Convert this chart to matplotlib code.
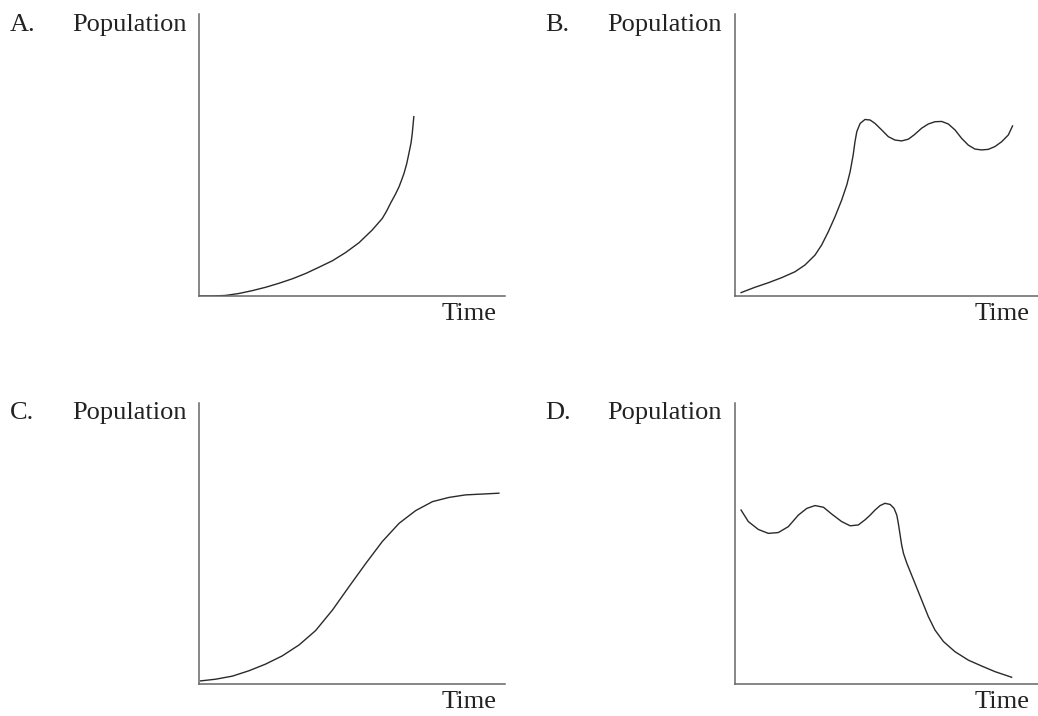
import numpy as np
import matplotlib
from matplotlib import pyplot as plt

# curves (time / population on a 0-100 scale)
time_a = [0, 4.4, 8.7, 13.1, 17.4, 21.8, 26.1, 30.5, 34.9, 39.2, 43.6, 47.9, 52.3, 56.6, 59.9, 61.3, 62.6, 64.2,
          65.4, 66.2, 67.0, 67.9, 68.6, 69.3, 69.7, 70.2]
pop_a = [0, 0, 0.2, 0.9, 1.9, 3.1, 4.5, 6.1, 8.0, 10.2, 12.5, 15.4, 18.9, 23.4, 27.5, 30.1, 32.9, 36.1,
         38.8, 41.1, 43.5, 47.0, 50.6, 54.3, 57.7, 63.6]

time_b = [2.0, 6.6, 11.0, 15.4, 19.8, 23.1, 26.4, 28.6, 30.8, 33.0, 35.2, 36.9, 38.0, 39.0, 39.6, 40.2, 41.3, 42.9,
          44.6, 46.2, 48.4, 50.6, 52.8, 55.0, 57.2, 59.2, 61.6, 63.8, 66.0, 68.2, 70.4, 72.6, 74.8, 77.0, 79.2,
          81.4, 83.6, 85.8, 88.0, 90.2, 91.6]
pop_b = [1.2, 3.1, 4.7, 6.5, 8.6, 11.0, 14.5, 18.1, 22.8, 28.1, 34.0, 39.4, 44.1, 50.0, 54.7, 58.3, 61.2, 62.6,
         62.4, 61.2, 58.9, 56.5, 55.3, 55.0, 55.6, 57.2, 59.5, 61.0, 61.8, 61.9, 61.0, 58.9, 55.9, 53.5, 52.1,
         51.8, 52.0, 53.0, 54.7, 57.1, 60.3]

time_c = [0.5, 5.4, 10.9, 16.3, 21.8, 27.2, 32.7, 38.1, 43.6, 49.0, 54.5, 59.9, 65.4, 70.8, 76.3, 81.7, 87.1, 92.6, 98.0]
pop_c = [1.1, 1.7, 2.8, 4.7, 7.1, 10.0, 13.9, 19.0, 26.3, 34.6, 42.9, 50.7, 57.2, 61.7, 64.9, 66.4, 67.3, 67.6, 67.9]

time_d = [2.0, 4.4, 7.7, 11.0, 14.3, 17.6, 20.9, 23.7, 26.4, 29.2, 31.9, 35.2, 38.0, 40.7, 43.0, 44.6, 46.2, 47.9,
          49.5, 51.2, 52.5, 53.4, 53.9, 54.5, 55.0, 55.6, 56.7, 59.4, 61.6, 63.8, 66.0, 68.8, 72.6, 77.0,
          81.4, 85.8, 91.3]
pop_d = [61.9, 57.8, 55.0, 53.6, 53.9, 56.0, 60.1, 62.5, 63.5, 62.9, 60.5, 57.8, 56.3, 56.6, 58.5, 60.1, 61.9, 63.5,
         64.3, 63.9, 62.5, 60.1, 57.2, 53.0, 49.5, 46.5, 43.0, 35.8, 29.9, 24.0, 19.2, 15.1, 11.5, 8.5,
         6.4, 4.4, 2.4]

letters = ["A.", "B.", "C.", "D."]
ylabel = "Population"
xlabel = "Time"

config = {
    "font.family": "serif",
    "font.serif": ["Liberation Serif", "DejaVu Serif"],
    "font.size": 19,
}
matplotlib.rcParams.update(config)

W, H = 1038, 716
fig = plt.figure(figsize=(W / 100, H / 100), dpi=100)

# axes boxes in pixels: left, x axis line y, width, height
boxes = [(199, 296, 306, 282), (735, 296, 303, 282), (199, 684, 306, 281), (735, 684, 303, 281)]
curves = [(time_a, pop_a), (time_b, pop_b), (time_c, pop_c), (time_d, pop_d)]
# label anchors: letter left x, population right x, row centre y, time right x, time y
labels = [(10, 187, 25, 497, 314), (545, 722, 25, 1030, 314),
          (10, 187, 413, 497, 702), (545, 722, 413, 1030, 702)]

for i in range(4):
    left, base, w, h = boxes[i]
    ax = fig.add_axes([left / W, (H - base) / H, w / W, h / H])
    t, p = curves[i]
    ax.plot(t, p, color="#2a2a2a", linewidth=1.0, solid_joinstyle="round")
    ax.set_xlim(0, 100)
    ax.set_ylim(0, 100)
    ax.spines["top"].set_visible(False)
    ax.spines["right"].set_visible(False)
    for s in ["left", "bottom"]:
        ax.spines[s].set_color("#666666")
        ax.spines[s].set_linewidth(1.1)
    ax.set_xticks([])
    ax.set_yticks([])
    ax.patch.set_alpha(0)

    lx, px, ry, tx, ty = labels[i]
    fig.text(lx / W, 1 - ry / H, letters[i], ha="left", va="center", color="#222222")
    fig.text(px / W, 1 - ry / H, ylabel, ha="right", va="center", color="#222222")
    fig.text(tx / W, 1 - ty / H, xlabel, ha="right", va="center", color="#222222")

plt.savefig("out.png", dpi=100)
